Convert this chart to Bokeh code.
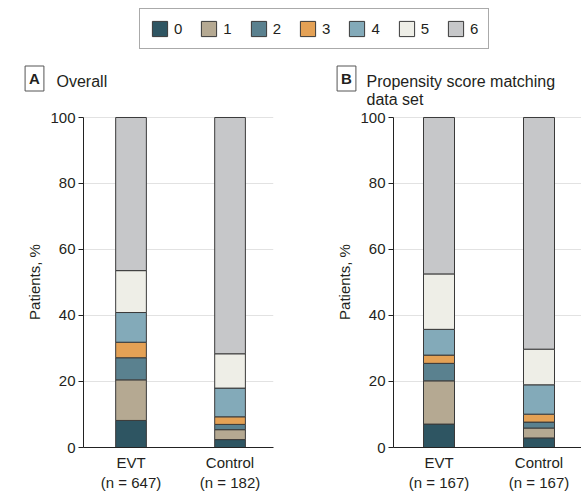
from bokeh.plotting import figure
from bokeh.models import ColumnDataSource, Range1d, FixedTicker, Legend, LegendItem, Label
from bokeh.layouts import column, row
from bokeh.embed import file_html
from bokeh.resources import INLINE

# ---- data ----
levels = ["0", "1", "2", "3", "4", "5", "6"]
colors = ["#2E5562", "#B5A992", "#5A818F", "#E4A155", "#83AAB9", "#EEEEE7", "#C6C7C9"]

groups = ["EVT", "Control"]
n_overall = [647, 182]
n_psm = [167, 167]

# percentage of patients at each mRS level (0..6)
overall_evt = [8.2, 12.3, 6.7, 4.7, 9.0, 12.7, 46.4]
overall_control = [2.4, 3.0, 1.6, 2.3, 8.7, 10.4, 71.6]
psm_evt = [7.1, 13.1, 5.3, 2.5, 7.8, 16.8, 47.4]
psm_control = [2.9, 3.0, 1.8, 2.4, 8.9, 10.8, 70.2]

y_ticks = [0, 20, 40, 60, 80, 100]

panel_letters = ["A", "B"]
panel_titles = [["Overall"], ["Propensity score matching", "data set"]]

FONT = "Liberation Sans"
TXT = "#231f20"
HEAD_H = 108
PANEL_H = 385


def make_panel(evt, ctrl, ns, width, left, right, xr):
    p = figure(width=width, height=PANEL_H, x_range=Range1d(*xr), y_range=Range1d(0, 100.3),
               output_backend="svg", toolbar_location=None,
               min_border_left=left, min_border_right=right, min_border_top=8, min_border_bottom=46)
    xs = [1, 2]
    data = {"x": xs}
    for i, lv in enumerate(levels):
        data[lv] = [evt[i], ctrl[i]]
    src = ColumnDataSource(data)
    p.vbar_stack(levels, x="x", width=0.31, source=src, fill_color=colors,
                 line_color="#3a3a3a", line_width=1)

    p.outline_line_color = None
    p.xgrid.visible = False
    p.ygrid.ticker = FixedTicker(ticks=y_ticks)
    p.ygrid.grid_line_color = "#e2e2e2"
    p.ygrid.grid_line_width = 1

    ya = p.yaxis[0]
    ya.ticker = FixedTicker(ticks=y_ticks)
    ya.bounds = (0, 100)
    ya.axis_line_color = "#222222"
    ya.major_tick_line_color = "#222222"
    ya.major_tick_in = 0
    ya.major_tick_out = 5
    ya.minor_tick_line_color = None
    ya.major_label_text_font = FONT
    ya.major_label_text_font_size = "15px"
    ya.major_label_text_color = TXT
    ya.major_label_standoff = 3
    ya.axis_label = "Patients, %"
    ya.axis_label_text_font = FONT
    ya.axis_label_text_font_size = "15px"
    ya.axis_label_text_font_style = "normal"
    ya.axis_label_text_color = TXT
    ya.axis_label_standoff = 4

    xa = p.xaxis[0]
    xa.ticker = FixedTicker(ticks=xs)
    xa.major_label_overrides = {xs[i]: f"{groups[i]}\n(n = {ns[i]})" for i in range(2)}
    xa.axis_line_color = "#222222"
    xa.major_tick_line_color = None
    xa.major_tick_in = 0
    xa.major_tick_out = 0
    xa.minor_tick_line_color = None
    xa.major_label_text_font = FONT
    xa.major_label_text_font_size = "15px"
    xa.major_label_text_color = TXT
    xa.major_label_standoff = 6
    return p


pA = make_panel(overall_evt, overall_control, n_overall, 300, 83, 27, (0.52, 2.439))
pB = make_panel(psm_evt, psm_control, n_psm, 281, 93, 0, (0.545, 2.425))

# ---- header: legend + panel titles ----
head = figure(width=581, height=HEAD_H, x_range=Range1d(0, 1), y_range=Range1d(0, 1),
              output_backend="svg", toolbar_location=None,
              x_axis_location=None, y_axis_location=None, min_border=0)
head.outline_line_color = None
head.grid.visible = False
items = []
for lv, c in zip(levels, colors):
    r = head.vbar(x=[0.5], top=[-5], bottom=[-6], width=0.01, fill_color=c,
                  line_color="#3a3a3a", line_width=1)
    items.append(LegendItem(label=lv, renderers=[r]))
legend = Legend(items=items, orientation="horizontal", location=(139, 59),
                glyph_width=19, glyph_height=19, label_standoff=5, label_width=8,
                spacing=17, padding=10, border_line_color="#555555", border_line_width=1,
                label_text_font=FONT, label_text_font_size="15px", label_text_color=TXT,
                background_fill_alpha=0)
head.add_layout(legend, "center")

box_xs = [34, 346]
text_xs = [56, 366]
for letter, lines, bx, tx in zip(panel_letters, panel_titles, box_xs, text_xs):
    head.add_layout(Label(x=bx, y=30, x_units="screen", y_units="screen", text=letter,
                          text_align="center", text_baseline="middle", text_font=FONT,
                          text_font_style="bold", text_font_size="15px", text_color=TXT,
                          border_line_color="#555555", border_line_width=1, padding=4))
    for k, line in enumerate(lines):
        head.add_layout(Label(x=tx, y=27 - 18 * k, x_units="screen", y_units="screen",
                              text=line, text_align="left", text_baseline="alphabetic",
                              text_font=FONT, text_font_size="16px", text_color=TXT))

layout = column(head, row(pA, pB))
open("out.html", "w").write(file_html(layout, INLINE))
